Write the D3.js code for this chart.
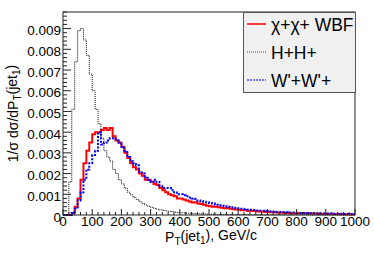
<!DOCTYPE html>
<html>
<head>
<meta charset="utf-8">
<script src="https://cdn.jsdelivr.net/npm/d3@7"></script>
<style>
  body { margin: 0; background: #fff; }
  svg { display: block; }
  text { font-family: "Liberation Sans", Arial, sans-serif; fill: #000; }
</style>
</head>
<body>
<svg id="chart" width="374" height="253"></svg>
<script>
// 10 GeV bins from 0 to 1000
var binWidth = 10
var binLow = d3.range(0, 1000, binWidth)

var seriesNames = ["χ+χ+ WBF", "H+H+", "W'+W'+"]

var chiValues = [
  0, 0, 0, 0.0001, 0.0004, 0.0008, 0.0017, 0.0025, 0.0031, 0.0035,
  0.0039, 0.0040, 0.0040, 0.0041, 0.0042, 0.0041, 0.0042, 0.0038, 0.0036, 0.0035,
  0.0033, 0.0030, 0.00275, 0.0025, 0.0023, 0.0022, 0.0020, 0.0019, 0.0017, 0.0017,
  0.0016, 0.0015, 0.00145, 0.0013, 0.0012, 0.0011, 0.0010, 0.00095, 0.0009, 0.0008,
  0.0008, 0.00075, 0.0007, 0.00065, 0.0006, 0.00062, 0.00055, 0.00053, 0.0005, 0.00045,
  0.00042, 0.0004, 0.0004, 0.00038, 0.00035, 0.00033, 0.00034, 0.0003, 0.00028, 0.00026,
  0.00025, 0.00023, 0.00024, 0.00021, 0.0002, 0.00019, 0.00018, 0.00017, 0.00016, 0.00015,
  0.00014, 0.00013, 0.00013, 0.00012, 0.00011, 0.00011, 0.0001, 0.0001, 0.00009, 0.00009,
  0.00008, 0.00008, 0.00008, 0.00008, 0.00007, 0.00007, 0.00007, 0.00006, 0.00006, 0.00006,
  0.00006, 0.00005, 0.00005, 0.00005, 0.00005, 0.00004, 0.00004, 0.00004, 0.00004, 0.00003
]

var hhValues = [
  0, 0, 0.0016, 0.0051, 0.0074, 0.0089, 0.0090, 0.00845, 0.0077, 0.0068,
  0.0060, 0.0051, 0.0044, 0.0037, 0.0031, 0.0028, 0.0026, 0.0022, 0.0020, 0.0017,
  0.0015, 0.0013, 0.0011, 0.00097, 0.00085, 0.00075, 0.00064, 0.00056, 0.00048, 0.00042,
  0.00037, 0.00032, 0.00028, 0.00025, 0.00022, 0.0002, 0.00018, 0.00016, 0.00014, 0.00012,
  0.00011, 0.0001, 0.00009, 0.00008, 0.00007, 0.00006, 0.00006, 0.00005, 0.00005, 0.00004,
  0.00004, 0.00004, 0.00003, 0.00003, 0.00003, 0.00003, 0.00002, 0.00002, 0.00002, 0.00002,
  0.00002, 0.00002, 0.00002, 0.00001, 0.00001, 0.00001, 0.00001, 0.00001, 0.00001, 0.00001,
  0.00001, 0.00001, 0.00001, 0.00001, 0.00001, 0.00001, 0.00001, 0.00001, 0.00001, 0.00001,
  0.00001, 0.00001, 0.00001, 0.00001, 0.00001, 0, 0.00001, 0, 0.00001, 0,
  0, 0.00001, 0, 0, 0, 0, 0, 0, 0, 0
]

var wwValues = [
  0, 0, 0, 0.0001, 0.0003, 0.0007, 0.0011, 0.0017, 0.0022, 0.0025,
  0.0029, 0.0031, 0.0040, 0.0034, 0.0035, 0.0036, 0.0037, 0.0037, 0.0036, 0.0035,
  0.0033, 0.0031, 0.0028, 0.0026, 0.0025, 0.0024, 0.0021, 0.0020, 0.0018, 0.0017,
  0.0016, 0.0017, 0.0016, 0.0014, 0.0013, 0.0013, 0.0013, 0.0012, 0.0011, 0.0010,
  0.0010, 0.00095, 0.0009, 0.00085, 0.0008, 0.00078, 0.0007, 0.00068, 0.00064, 0.0006,
  0.00058, 0.00055, 0.0005, 0.00047, 0.00045, 0.00042, 0.0004, 0.00037, 0.00035, 0.00032,
  0.0003, 0.0003, 0.00028, 0.00026, 0.00025, 0.00024, 0.00022, 0.0002, 0.0002, 0.00019,
  0.00018, 0.00017, 0.00016, 0.00015, 0.00015, 0.00014, 0.00013, 0.00012, 0.00012, 0.00011,
  0.0001, 0.0001, 0.0001, 0.00009, 0.00009, 0.00008, 0.00008, 0.00008, 0.00007, 0.00007,
  0.00007, 0.00007, 0.00006, 0.00006, 0.00006, 0.00006, 0.00005, 0.00005, 0.00005, 0.00005
]

var xTicks = [0, 100, 200, 300, 400, 500, 600, 700, 800, 900, 1000]
var yTicks = [0, 0.001, 0.002, 0.003, 0.004, 0.005, 0.006, 0.007, 0.008, 0.009]

var dimensions = {
  width: 374,
  height: 253,
  margin: { top: 12, bottom: 38, left: 63, right: 19 }
}

var svg = d3.select("#chart")

var xScale = d3.scaleLinear()
  .domain([0, 1000])
  .range([dimensions.margin.left, dimensions.width - dimensions.margin.right])

var yScale = d3.scaleLinear()
  .domain([0, 0.0098])
  .range([dimensions.height - dimensions.margin.bottom, dimensions.margin.top])

var x0 = xScale(0), x1 = xScale(1000), y0 = yScale(0), y1 = yScale(0.0098)

// histograms as step lines
function histPoints(values) {
  var pts = binLow.map((lo, i) => [lo, values[i]])
  pts.push([1000, values[values.length - 1]])
  return pts
}

var stepLine = d3.line()
  .x(d => xScale(d[0]))
  .y(d => yScale(d[1]))
  .curve(d3.curveStepAfter)

var plot = svg.append("g")

plot.append("path")
  .attr("d", stepLine(histPoints(hhValues)))
  .attr("fill", "none")
  .attr("stroke", "#000")
  .attr("stroke-width", 1)
  .attr("stroke-dasharray", "1,1")

plot.append("path")
  .attr("d", stepLine(histPoints(chiValues)))
  .attr("fill", "none")
  .attr("stroke", "#ff0000")
  .attr("stroke-width", 2)

plot.append("path")
  .attr("d", stepLine(histPoints(wwValues)))
  .attr("fill", "none")
  .attr("stroke", "#0000ff")
  .attr("stroke-width", 2)
  .attr("stroke-dasharray", "2,1.5")

// frame
svg.append("rect")
  .attr("x", x0).attr("y", y1)
  .attr("width", x1 - x0).attr("height", y0 - y1)
  .attr("fill", "none")
  .attr("stroke", "#222")
  .attr("stroke-width", 1)

// x axis ticks (inside frame)
var xMinor = d3.range(0, 1001, 20)
svg.append("g").selectAll("line").data(xMinor).enter().append("line")
  .attr("x1", d => xScale(d)).attr("x2", d => xScale(d))
  .attr("y1", y0)
  .attr("y2", d => d % 100 === 0 ? y0 - 6 : y0 - 3)
  .attr("stroke", "#222")
  .attr("stroke-width", 1)

svg.append("g").selectAll("text").data(xTicks).enter().append("text")
  .attr("x", d => xScale(d))
  .attr("y", y0 + 11)
  .attr("text-anchor", "middle")
  .style("font-size", "13.5px")
  .text(d => d)

// y axis ticks
var yMinor = d3.range(0, 50).map(i => i * 0.0002)
svg.append("g").selectAll("line").data(yMinor).enter().append("line")
  .attr("x1", x0)
  .attr("x2", (d, i) => i % 5 === 0 ? x0 + 8 : x0 + 4)
  .attr("y1", d => yScale(d)).attr("y2", d => yScale(d))
  .attr("stroke", "#222")
  .attr("stroke-width", 1)

svg.append("g").selectAll("text").data(yTicks).enter().append("text")
  .attr("x", x0 - 2)
  .attr("y", d => yScale(d) + 6.5)
  .attr("text-anchor", "end")
  .style("font-size", "13.5px")
  .text(d => d === 0 ? "0" : d3.format(".3f")(d))

// axis titles
var xTitle = svg.append("text")
  .attr("x", (x0 + x1) / 2 + 2)
  .attr("y", 242)
  .attr("text-anchor", "middle")
  .style("font-size", "14px")
xTitle.append("tspan").text("P")
xTitle.append("tspan").attr("dy", "0.3em").style("font-size", "10px").text("T")
xTitle.append("tspan").attr("dy", "-0.3em").text("(jet")
xTitle.append("tspan").attr("dy", "0.3em").style("font-size", "10px").text("1")
xTitle.append("tspan").attr("dy", "-0.3em").text("), GeV/c")

var yTitle = svg.append("text")
  .attr("transform", "translate(18," + ((y0 + y1) / 2) + ") rotate(-90)")
  .attr("text-anchor", "middle")
  .style("font-size", "14px")
yTitle.append("tspan").text("1/σ dσ/dP")
yTitle.append("tspan").attr("dy", "0.3em").style("font-size", "10px").text("T")
yTitle.append("tspan").attr("dy", "-0.3em").text("(jet")
yTitle.append("tspan").attr("dy", "0.3em").style("font-size", "10px").text("1")
yTitle.append("tspan").attr("dy", "-0.3em").text(")")

// legend
var legend = svg.append("g")
legend.append("rect")
  .attr("x", 243.5).attr("y", 12.5)
  .attr("width", 112).attr("height", 80)
  .attr("fill", "#f0f0f0")
  .attr("stroke", "#555")
  .attr("stroke-width", 1)

var legendStyles = [
  { color: "#ff0000", width: 1.5, dash: null },
  { color: "#555", width: 1, dash: "1,1" },
  { color: "#0000ff", width: 1, dash: "2,1" }
]

seriesNames.forEach(function(name, i) {
  var cy = 24 + i * 28
  legend.append("line")
    .attr("x1", 247).attr("x2", 266)
    .attr("y1", cy).attr("y2", cy)
    .attr("stroke", legendStyles[i].color)
    .attr("stroke-width", legendStyles[i].width)
    .attr("stroke-dasharray", legendStyles[i].dash)
  legend.append("text")
    .attr("x", 271)
    .attr("y", cy + 6.5)
    .style("font-size", "17.5px")
    .text(name)
})
</script>
</body>
</html>
